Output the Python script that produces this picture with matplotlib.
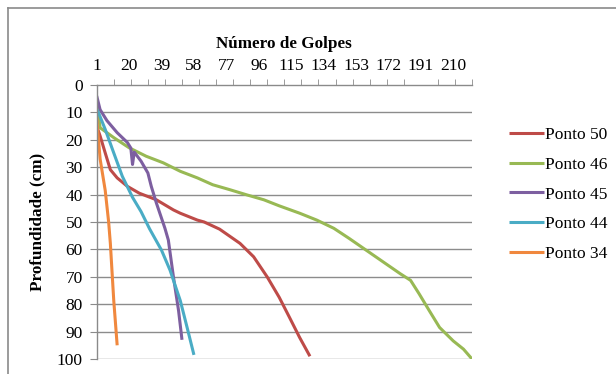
import numpy as np
import matplotlib
matplotlib.use("Agg")
import matplotlib.pyplot as plt
from matplotlib.lines import Line2D

plt.rcParams['font.family'] = ['Liberation Serif', 'DejaVu Serif']

# depth (cm) read against number of blows, one pair of lists per point
p50_golpes = [1, 3, 6, 9, 13, 19, 26, 36, 46, 50, 60, 64, 73, 85, 93, 101, 108, 114, 120, 126]
p50_prof = [15, 18.6, 24.8, 30.9, 33.9, 37, 39.5, 41.9, 45.6, 46.8, 49.3, 50, 52.6, 57.8, 62.7, 70.1, 77.5, 84.8, 92.2, 99]

p46_golpes = [1, 3, 11, 20, 30, 40, 50, 60, 69, 79, 89, 99, 108, 120, 130, 140, 149, 159, 169, 179, 185, 190, 196, 202, 210, 216, 221]
p46_prof = [6, 15.6, 19.2, 22.9, 26, 28.4, 31.5, 33.9, 36.4, 38.2, 40.1, 41.9, 44.1, 46.8, 49.3, 52.3, 56, 60.3, 64.6, 68.9, 71.3, 76.2, 82.4, 88.5, 93.4, 96.4, 100]

p45_golpes = [1, 3, 7, 13, 19, 21, 22, 23, 27, 31, 33, 36, 41, 43, 46, 49, 51]
p45_prof = [4, 9, 13, 17.4, 21, 23, 29, 24.5, 27.8, 32.1, 37, 43.1, 52.3, 56.6, 70.1, 82.4, 93]

p44_golpes = [1, 2, 6, 11, 16, 22, 27, 32, 39, 44, 50, 54, 58]
p44_prof = [8.8, 10, 16.2, 24.8, 33.3, 41, 46.2, 52.5, 60.3, 67.6, 78.7, 88.5, 98.5]

p34_golpes = [1, 3, 6, 8, 9, 11, 13]
p34_prof = [12, 27, 38.5, 50, 57.8, 78.7, 95]

series = [
    ("Ponto 50", p50_golpes, p50_prof, "#BE4B48"),
    ("Ponto 46", p46_golpes, p46_prof, "#98B954"),
    ("Ponto 45", p45_golpes, p45_prof, "#7D5FA0"),
    ("Ponto 44", p44_golpes, p44_prof, "#4AACC5"),
    ("Ponto 34", p34_golpes, p34_prof, "#F0883E"),
]

x_labels = list(range(1, 211, 19))
y_ticks = list(range(0, 101, 10))

fig = plt.figure(figsize=(6.16, 3.74), dpi=100)
ax = fig.add_axes([96.7 / 616, 1 - 359 / 374, (472 - 96.7) / 616, (359 - 85) / 374])

# chart area border (left and top visible)
fig.add_artist(Line2D([8 / 616, 8 / 616], [0, 1 - 8 / 374], color="#8a8a8a", lw=1.2))
fig.add_artist(Line2D([8 / 616, 1], [1 - 8 / 374, 1 - 8 / 374], color="#8a8a8a", lw=1.2))

for yv in y_ticks[1:]:
    ax.axhline(yv, color="#8c8c8c", lw=1.0, zorder=0)

handles = []
for name, g, d, c in series:
    h, = ax.plot(g, d, color=c, lw=2.2, solid_capstyle="butt", label=name)
    handles.append(h)

ax.set_xlim(1, 221)
ax.set_ylim(100, 0)

ax.xaxis.tick_top()
ax.xaxis.set_label_position("top")
ax.set_xticks(x_labels)
ax.set_xticklabels([str(v) for v in x_labels])
ax.set_xticks(list(range(1, 222, 10)), minor=True)
ax.tick_params(axis="x", which="major", length=0, labelsize=12.5, pad=8)
ax.tick_params(axis="x", which="minor", length=4, color="#8a8a8a", direction="out")
ax.set_xlabel("Número de Golpes", fontsize=12.3, fontweight="bold", labelpad=7)

ax.set_yticks(y_ticks)
ax.tick_params(axis="y", length=5, color="#8a8a8a", labelsize=12.5, direction="out", pad=5)
ax.set_ylabel("Profundidade (cm)", fontsize=12.3, fontweight="bold", labelpad=8)

for s in ["right", "bottom"]:
    ax.spines[s].set_visible(False)
for s in ["left", "top"]:
    ax.spines[s].set_color("#8a8a8a")
    ax.spines[s].set_linewidth(1.0)

fig.legend(handles=handles, loc="upper left", bbox_to_anchor=(509 / 616, 1 - 127 / 374),
           frameon=False, fontsize=12.5, handlelength=2.0, handletextpad=0.1,
           labelspacing=0.78, borderpad=0, borderaxespad=0)

fig.savefig("out.png", dpi=100)
